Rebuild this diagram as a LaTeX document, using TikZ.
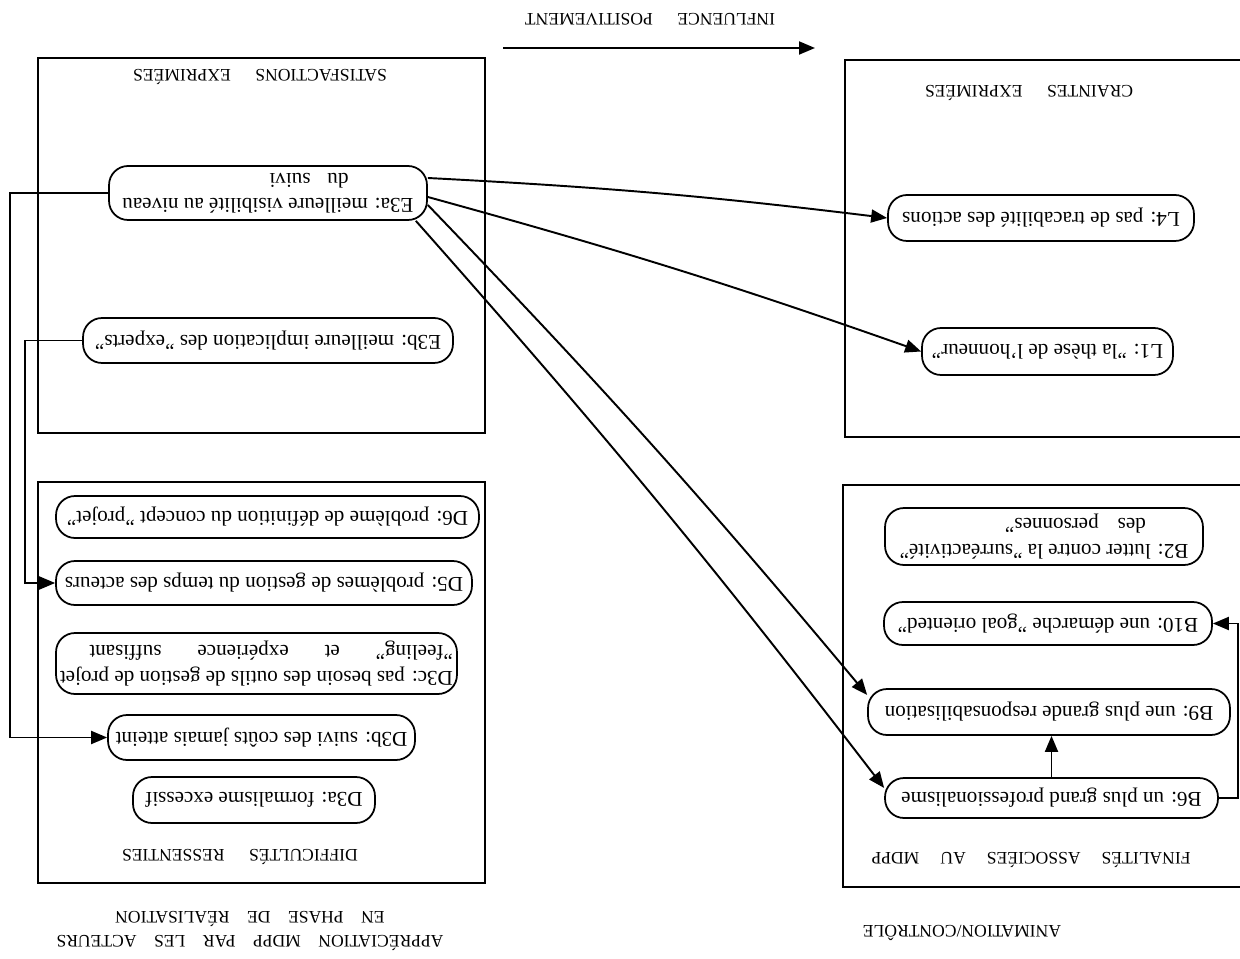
\documentclass[tikz,border=0pt]{standalone}
\usepackage{fontspec}
\setmainfont{Liberation Serif}
\usetikzlibrary{arrows.meta,calc}
\begin{document}
\begin{tikzpicture}[x=0.02cm,y=-0.02cm,
  pill/.style={draw, line width=1pt, rounded corners=0.38cm, rotate=180,
    font=\fontsize{12}{14.5}\selectfont, inner sep=0pt, align=center},
  panel/.style={draw, line width=1.1pt},
  heading/.style={rotate=180, font=\fontsize{10}{14}\selectfont, inner sep=0pt, align=center},
  link/.style={line width=1.1pt, -{Triangle[length=0.32cm,width=0.26cm]}},
  wire/.style={line width=1.1pt}
]
\useasboundingbox (0,0) rectangle (1240,959);
\fill[white] (0,0) rectangle (1240,959);

% the four panels (the right ones run off the page)
\draw[panel] (38,58) rectangle (485,433);
\draw[panel] (38,482) rectangle (485,883);
\draw[panel] (1250,60) -- (845,60) -- (845,437) -- (1250,437);
\draw[panel] (1250,485) -- (843,485) -- (843,887) -- (1250,887);

% panel headings and captions
\node[heading] (hSat) at (260,77) {SATISFACTIONS\hspace{1.4em}EXPRIMÉES};
\node[heading] (hCra) at (1029,93) {CRAINTES\hspace{1.4em}EXPRIMÉES};
\node[heading] (hDif) at (240,857) {DIFFICULTÉS\hspace{1.4em}RESSENTIES};
\node[heading] (hFin) at (1031,860) {FINALITÉS\hspace{1.2em}ASSOCIÉES\hspace{1.2em}AU\hspace{1.2em}MDPP};
\node[heading] (hInf) at (650,19) {INFLUENCE\hspace{1.4em}POSITIVEMENT};
\node[heading] (hApp) at (250,931) {APPRÉCIATION\hspace{1em}MDPP\hspace{1em}PAR\hspace{1em}LES\hspace{1em}ACTEURS\\
  EN\hspace{1em}PHASE\hspace{1em}DE\hspace{1em}RÉALISATION};
\node[heading] (hAni) at (962,933) {ANIMATION/CONTRÔLE};

% influence arrow
\coordinate (infA) at (503,48);
\coordinate (infB) at (815,48);
\draw[link] (infA) -- (infB);

% satisfactions
\node[pill, minimum width=6.36cm, minimum height=1.08cm, align=left] (E3a) at (268,193)
  {E3a: meilleure visibilité au niveau\\ \hspace*{1.3cm}du\hspace{0.8em}suivi};
\node[pill, minimum width=7.4cm, minimum height=0.9cm] (E3b) at (268,340.5)
  {E3b: meilleure implication des "experts"};

% craintes
\node[pill, minimum width=6.12cm, minimum height=0.92cm] (L4) at (1041,218)
  {L4: pas de tracabilité des actions};
\node[pill, minimum width=5.02cm, minimum height=0.94cm] (L1) at (1047.5,351.5)
  {L1: "la thèse de l'honneur"};

% difficultes
\node[pill, minimum width=8.46cm, minimum height=0.84cm] (D6) at (267.5,517)
  {D6: problème de définition du concept "projet"};
\node[pill, minimum width=8.32cm, minimum height=0.88cm] (D5) at (264,583)
  {D5: problèmes de gestion du temps des acteurs};
\node[pill, minimum width=8.02cm, minimum height=1.22cm, align=left] (D3c) at (256.5,663.5)
  {D3c: pas besoin des outils de gestion de projet\\
   "feeling"\hspace{1.7em}et\hspace{1.7em}expérience\hspace{1.7em}suffisant};
\node[pill, minimum width=6.14cm, minimum height=0.9cm] (D3b) at (261.5,737.5)
  {D3b: suivi des coûts jamais atteint};
\node[pill, minimum width=4.84cm, minimum height=0.92cm] (D3a) at (254,800)
  {D3a: formalisme excessif};

% finalites
\node[pill, minimum width=6.36cm, minimum height=1.14cm, align=left] (B2) at (1044,536.5)
  {B2: lutter contre la "surréactivité"\\ \hspace*{0.85cm}des\hspace{0.9em}personnes"};
\node[pill, minimum width=6.56cm, minimum height=0.86cm] (B10) at (1048,623.5)
  {B10: une démarche "goal oriented"};
\node[pill, minimum width=7.24cm, minimum height=0.92cm] (B9) at (1049,712)
  {B9: une plus grande responsabilisation};
\node[pill, minimum width=6.66cm, minimum height=0.8cm] (B6) at (1051.5,798)
  {B6: un plus grand professionalisme};

% connectors
\draw[link] (E3a.east) -- (10,193) |- (D3b.east);
\draw[link] (E3b.east) -- (25,340.5) |- (D5.east);
\draw[link] ($(E3a.west)+(0,-15)$) to[bend left=2] (L4.east);
\draw[link] ($(E3a.west)+(0,4)$) to[bend left=2] (L1.east);
\draw[link] ($(E3a.west)+(0,12)$) to[bend left=2] ($(B9.east)+(0,-17)$);
\draw[link] ($(E3a.north west)+(-12,0)$) to[bend left=2] ($(B6.east)+(0,-10)$);
\draw[link] (B6.south) -- (B6.south |- B9.north);
\draw[link] (B6.west) -- ++(19,0) |- (B10.west);
\end{tikzpicture}
\end{document}
